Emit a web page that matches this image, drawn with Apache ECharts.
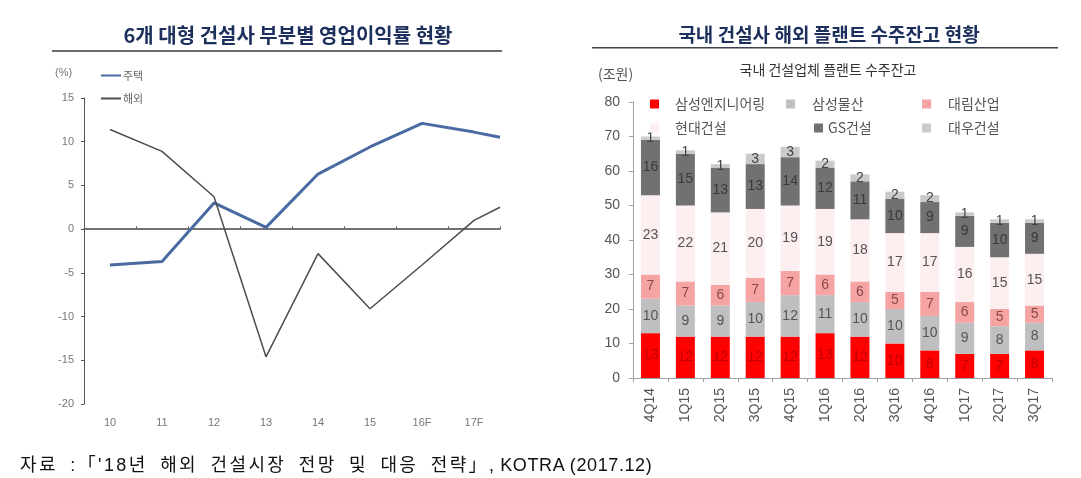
<!DOCTYPE html>
<html><head><meta charset="utf-8">
<script src="https://cdn.jsdelivr.net/npm/echarts@6/dist/echarts.min.js"></script>
<style>
html,body{margin:0;padding:0;background:#fff;}
#c{width:1081px;height:478px;position:relative;}
#foot{position:absolute;left:20px;top:450px;font-family:'Liberation Sans','Noto Sans CJK KR',sans-serif;font-size:18px;color:#111;white-space:nowrap;}
#foot .k{letter-spacing:2.4px;word-spacing:5px;}
#foot .l{letter-spacing:0.6px;}
</style></head>
<body>
<div id="c"></div>
<div id="foot"><span class="k">자료 :「'18년 해외 건설시장 전망 및 대응 전략」</span><span class="l">, KOTRA (2017.12)</span></div>
<script>
// ---- left chart data (영업이익률, %) ----
const years = ['10','11','12','13','14','15','16F','17F',''];
const housing = [-4.1,-3.7,3.0,0.2,6.3,9.4,12.1,11.1,10.5];
const overseas = [11.4,8.9,3.7,-14.6,-2.8,-9.1,-4.1,1.0,2.5];
const leftTicks = [-20,-15,-10,-5,0,5,10,15];

// ---- right chart data (수주잔고, 조원) ----
const quarters = ['4Q14','1Q15','2Q15','3Q15','4Q15','1Q16','2Q16','3Q16','4Q16','1Q17','2Q17','3Q17'];
const samsungEng = [13,12,12,12,12,13,12,10,8,7,7,8];
const samsungCT  = [10,9,9,10,12,11,10,10,10,9,8,8];
const daelim     = [7,7,6,7,7,6,6,5,7,6,5,5];
const hyundai    = [23,22,21,20,19,19,18,17,17,16,15,15];
const gs         = [16,15,13,13,14,12,11,10,9,9,10,9];
const daewoo     = [1,1,1,3,3,2,2,2,2,1,1,1];

const FONT = "'Liberation Sans','Noto Sans CJK KR',sans-serif";
const KFONT = "'Noto Sans CJK KR',sans-serif";
const nCat = years.length - 1;
const toXY = arr => arr.map((v,i)=>[Math.min(i+0.5, nCat), v]);

const barSeries = [
  {name:'삼성엔지니어링', data:samsungEng, color:'#fe0000', lc:'rgba(120,0,0,0.45)'},
  {name:'삼성물산', data:samsungCT, color:'#bfbfc1', lc:'#555'},
  {name:'대림산업', data:daelim, color:'#f5a3a3', lc:'#8a4a4a'},
  {name:'현대건설', data:hyundai, color:'#fdeef0', lc:'#555'},
  {name:'GS건설', data:gs, color:'#717171', lc:'#3a3a3a'},
  {name:'대우건설', data:daewoo, color:'#cacaca', lc:'#444'}
].map(s=>({
  name:s.name, type:'bar', stack:'plant', xAxisIndex:2, yAxisIndex:1, barWidth:19,
  data:s.data, itemStyle:{color:s.color},
  label:{show:true, position:'inside', color:s.lc, fontSize:14, fontFamily:FONT},
  emphasis:{disabled:true}
}));

function legendItem(name, left, top, pad){
  return {
    left:left, top:top, data:[name], icon:'rect', itemWidth:9, itemHeight:9,
    selectedMode:false,
    textStyle:{fontSize:14, color:'#555', fontFamily:KFONT, padding:[0,0,0,pad]}
  };
}

const chart = echarts.init(document.getElementById('c'));
chart.setOption({
  animation:false,
  backgroundColor:'#fff',
  grid:[
    {left:84, top:98, width:416, height:306},
    {left:633, top:102, width:419, height:276}
  ],
  legend:[
    {left:96, top:65, orient:'vertical', itemGap:12, data:['주택','해외'], icon:'rect',
     itemWidth:20, itemHeight:2, selectedMode:false,
     textStyle:{fontSize:11, color:'#666', fontFamily:KFONT, padding:[0,0,0,-3]}},
    legendItem('삼성엔지니어링', 645, 92, 11),
    legendItem('삼성물산', 781, 92, 12),
    legendItem('대림산업', 917, 92, 12),
    legendItem('현대건설', 645, 116, 11),
    legendItem('GS건설', 809, 116, 0),
    legendItem('대우건설', 917, 116, 12)
  ],
  xAxis:[
    {type:'value', gridIndex:0, min:0, max:nCat, interval:0.5, position:'bottom',
     axisLine:{show:false, onZero:false}, axisTick:{show:false}, splitLine:{show:false},
     axisLabel:{margin:13, color:'#777', fontSize:11, fontFamily:FONT,
       formatter:v => (Math.abs(v % 1 - 0.5) < 1e-6) ? years[Math.floor(v)] : ''}},
    {type:'value', gridIndex:0, min:0, max:nCat, interval:1, position:'top',
     axisLine:{show:true, onZero:true, lineStyle:{color:'#444', width:1.5}},
     axisTick:{show:true, length:3, lineStyle:{color:'#666'}},
     axisLabel:{show:false}, splitLine:{show:false}},
    {type:'category', gridIndex:1, data:quarters, boundaryGap:true,
     axisLine:{lineStyle:{color:'#9aa4aa'}},
     axisTick:{show:true, length:4, lineStyle:{color:'#9aa4aa'}},
     axisLabel:{rotate:90, margin:10, color:'#555', fontSize:14, fontFamily:FONT}}
  ],
  yAxis:[
    {type:'value', gridIndex:0, min:leftTicks[0], max:leftTicks[leftTicks.length-1], interval:5,
     axisLine:{show:true, onZero:false, lineStyle:{color:'#555'}},
     axisTick:{show:true, length:3, lineStyle:{color:'#555'}},
     splitLine:{show:false},
     axisLabel:{margin:10, color:'#777', fontSize:11, fontFamily:FONT}},
    {type:'value', gridIndex:1, min:0, max:80, interval:10,
     axisLine:{show:true, lineStyle:{color:'#9aa4aa'}},
     axisTick:{show:true, length:4, lineStyle:{color:'#9aa4aa'}},
     splitLine:{show:false},
     axisLabel:{margin:13, color:'#555', fontSize:14, fontFamily:FONT}}
  ],
  series:[
    {name:'주택', type:'line', xAxisIndex:0, yAxisIndex:0, data:toXY(housing),
     symbol:'none', color:'#4a6aa2', lineStyle:{width:3, color:'#4a6aa2'}, emphasis:{disabled:true}},
    {name:'해외', type:'line', xAxisIndex:0, yAxisIndex:0, data:toXY(overseas),
     symbol:'none', color:'#4d4d4d', lineStyle:{width:1.5, color:'#4d4d4d'}, emphasis:{disabled:true}}
  ].concat(barSeries),
  graphic:[
    {type:'text', x:288, y:35, style:{text:'6개 대형 건설사 부분별 영업이익률 현황', font:"bold 20px "+KFONT,
      fill:'#1d2f5c', textAlign:'center', textVerticalAlign:'middle'}},
    {type:'rect', shape:{x:52, y:50, width:450, height:2}, style:{fill:'#6b6f75'}},
    {type:'text', x:829, y:35, style:{text:'국내 건설사 해외 플랜트 수주잔고 현황', font:"bold 19px "+KFONT,
      fill:'#1d2f5c', textAlign:'center', textVerticalAlign:'middle'}},
    {type:'rect', shape:{x:592, y:47, width:466, height:1.5}, style:{fill:'#3c4550'}},
    {type:'text', x:828, y:70, style:{text:'국내 건설업체 플랜트 수주잔고', font:"14px "+KFONT,
      fill:'#333', textAlign:'center', textVerticalAlign:'middle'}},
    {type:'text', x:598, y:74, style:{text:'(조원)', font:"14px "+KFONT,
      fill:'#555', textAlign:'left', textVerticalAlign:'middle'}},
    {type:'text', x:55, y:73, style:{text:'(%)', font:"11px "+FONT,
      fill:'#777', textAlign:'left', textVerticalAlign:'middle'}}
  ]
});
</script>
</body></html>
